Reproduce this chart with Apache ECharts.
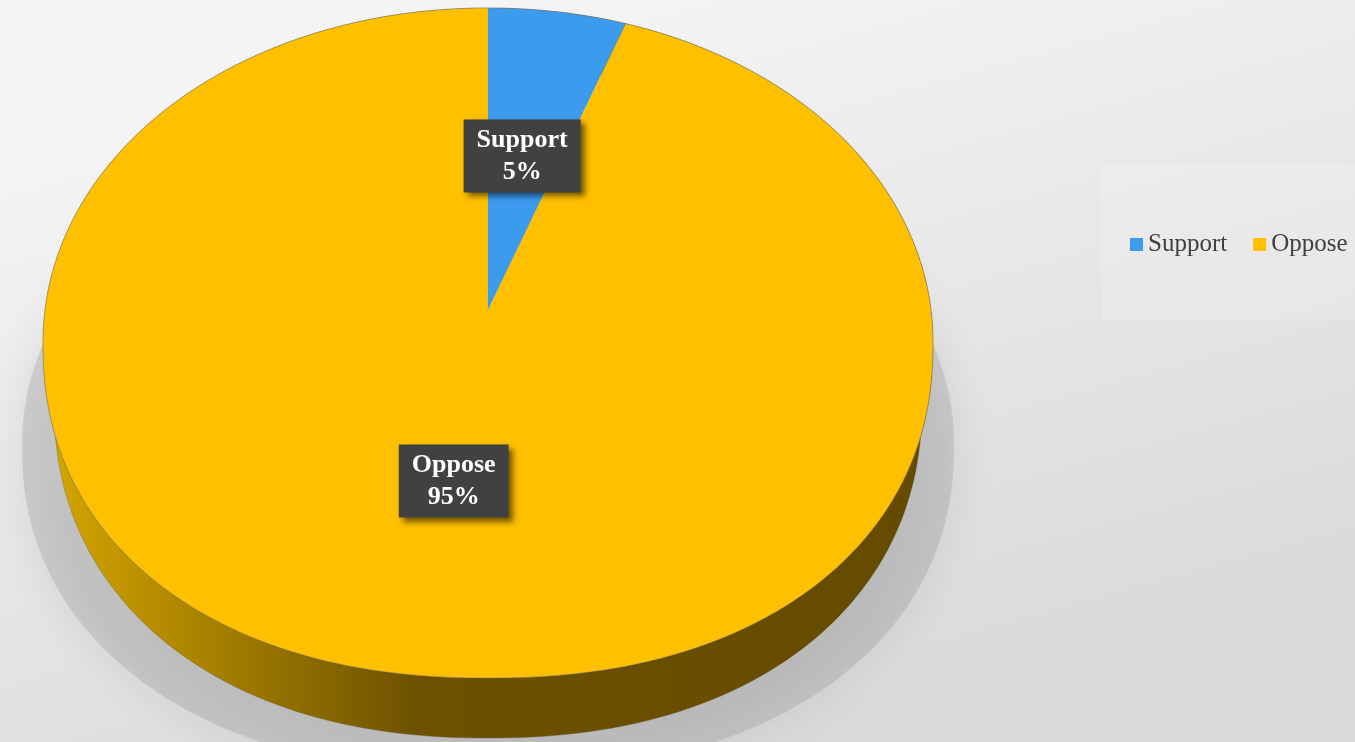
<!DOCTYPE html>
<html>
<head>
<meta charset="utf-8">
<script src="https://cdn.jsdelivr.net/npm/echarts@6/dist/echarts.min.js"></script>
<style>
html,body{margin:0;padding:0;width:1355px;height:742px;overflow:hidden;}
#c{width:1355px;height:742px;}
</style>
</head>
<body>
<div id="c"></div>
<script>
// ---- data ----
const categories = ['Support', 'Oppose'];
const values = [5, 95];
const colors = ['#3d9bee', '#ffc000'];

// ---- layout (pie geometry, not data) ----
const G = {
  cx: 488, cy: 343, rx: 445, ry: 335, apexDy: -33,
  nUp: 2.03, nDown: 2.2,
  bcx: 488, bcy: 401, brx: 434, bry: 337,
  labelFrac: 0.49, labelDy: -8
};

function outline(t, cx, cy, rx, ry) {
  const x0 = Math.sin(t), y0 = -Math.cos(t);
  const n = y0 > 0 ? G.nDown : G.nUp;
  const s = Math.pow(Math.pow(Math.abs(x0), n) + Math.pow(Math.abs(y0), n), -1 / n);
  return [cx + rx * x0 * s, cy + ry * y0 * s];
}
const topPt = t => outline(t, G.cx, G.cy, G.rx, G.ry);
const botPt = t => outline(t, G.bcx, G.bcy, G.brx, G.bry);

function arc(fn, a, b) {
  const steps = Math.max(4, Math.ceil((b - a) / (Math.PI * 2) * 240));
  const pts = [];
  for (let k = 0; k <= steps; k++) pts.push(fn(a + (b - a) * k / steps));
  return pts;
}

const total = values.reduce((s, v) => s + v, 0);

function renderItem(params, api) {
  const i = params.seriesIndex;
  let before = 0;
  for (let k = 0; k < i; k++) before += values[k];
  const a = before / total * Math.PI * 2;
  const b = (before + values[i]) / total * Math.PI * 2;
  const apex = [G.cx, G.cy + G.apexDy];
  const topArc = arc(topPt, a, b);
  const botArc = arc(botPt, a, b).reverse();
  const children = [];

  if (i === 0) {
    // soft drop shadow under the whole pie
    const sh = arc(t => outline(t, 488, 445, 466, 330), 0, Math.PI * 2);
    children.push({
      type: 'polygon', z2: -5,
      shape: { points: sh },
      style: { fill: 'rgba(150,150,150,0.3)', shadowBlur: 45, shadowColor: 'rgba(0,0,0,0.28)' }
    });
  }

  // side wall
  children.push({
    type: 'polygon', z2: 1,
    shape: { points: topArc.concat(botArc) },
    style: {
      fill: {
        type: 'linear', global: true, x: 43, y: 0, x2: 933, y2: 0,
        colorStops: [
          { offset: 0, color: '#d6a800' },
          { offset: 0.12, color: '#b88e00' },
          { offset: 0.3, color: '#8a6a00' },
          { offset: 0.42, color: '#6d5100' },
          { offset: 1, color: '#654b00' }
        ]
      },
      stroke: 'rgba(90,80,60,0.5)', lineWidth: 0.6
    }
  });

  // top face
  children.push({
    type: 'polygon', z2: 10,
    shape: { points: [apex].concat(topArc) },
    style: { fill: api.visual('color') }
  });
  children.push({
    type: 'polyline', z2: 11,
    shape: { points: topArc },
    style: { fill: null, stroke: 'rgba(110,110,110,0.55)', lineWidth: 0.8 }
  });

  // data label
  const mid = (a + b) / 2;
  const e = topPt(mid);
  const lx = apex[0] + (e[0] - apex[0]) * G.labelFrac;
  const ly = apex[1] + (e[1] - apex[1]) * G.labelFrac + G.labelDy;
  const pct = Math.round(values[i] / total * 100);
  children.push({
    type: 'text', z2: 20,
    x: lx, y: ly,
    style: {
      text: categories[i] + '\n' + pct + '%',
      fill: '#ffffff',
      fontFamily: 'Liberation Serif',
      fontWeight: 'bold',
      fontSize: 26,
      lineHeight: 32,
      align: 'center',
      verticalAlign: 'middle',
      backgroundColor: '#414141',
      padding: [5, 13, 4, 13],
      shadowColor: 'rgba(0,0,0,0.55)',
      shadowBlur: 6,
      shadowOffsetX: 4,
      shadowOffsetY: 4
    }
  });

  return { type: 'group', children };
}

const chart = echarts.init(document.getElementById('c'), null, { renderer: 'canvas' });
chart.setOption({
  animation: false,
  backgroundColor: {
    type: 'linear', x: 0.45, y: 0, x2: 0.6, y2: 1,
    colorStops: [
      { offset: 0, color: '#f4f4f4' },
      { offset: 1, color: '#d9d9d9' }
    ]
  },
  graphic: [{
    type: 'rect', left: 1102, top: 163,
    shape: { width: 260, height: 157 },
    style: { fill: 'rgba(255,255,255,0.15)' }
  }],
  legend: {
    data: categories,
    left: 1125, top: 227,
    icon: 'rect', itemWidth: 13, itemHeight: 13, itemGap: 26,
    textStyle: { fontFamily: 'Liberation Serif', fontSize: 25, color: '#404040' }
  },
  series: categories.map((name, i) => ({
    type: 'custom',
    name: name,
    coordinateSystem: 'none',
    data: [values[i]],
    itemStyle: { color: colors[i] },
    renderItem: renderItem
  }))
});
</script>
</body>
</html>
